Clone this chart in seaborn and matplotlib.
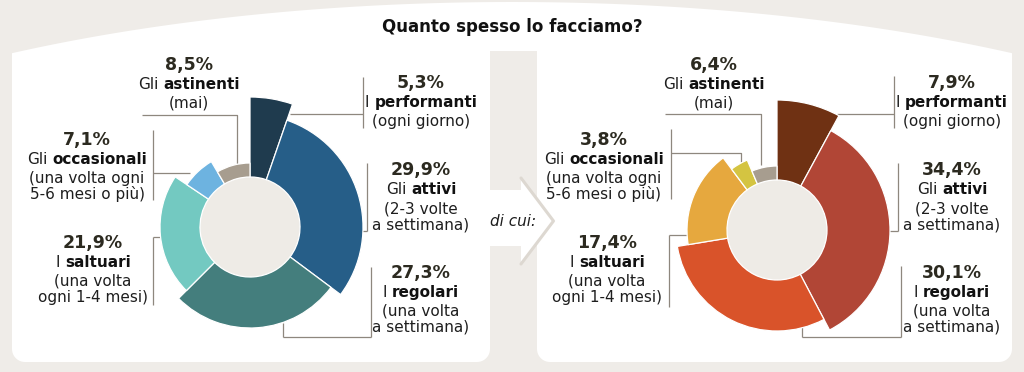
import numpy as np
import matplotlib
matplotlib.use("Agg")
import matplotlib.pyplot as plt
from matplotlib.patches import Polygon
import seaborn as sns

# ---------------- data ----------------
title = "Quanto spesso lo facciamo?"
segment_names = ["performanti", "attivi", "regolari", "saltuari", "occasionali", "astinenti"]
name_prefixes = ["I", "Gli", "I", "I", "Gli", "Gli"]
descriptions = [
    ["(ogni giorno)"],
    ["(2-3 volte", "a settimana)"],
    ["(una volta", "a settimana)"],
    ["(una volta", "ogni 1-4 mesi)"],
    ["(una volta ogni", "5-6 mesi o più)"],
    ["(mai)"],
]
share_18_60 = [5.3, 29.9, 27.3, 21.9, 7.1, 8.5]
share_18_34 = [7.9, 34.4, 30.1, 17.4, 3.8, 6.4]
center_top = ["18-60", "18-34"]
center_bottom = ["anni", "anni"]
connector_text = "di cui:"

# ---------------- style ----------------
BEIGE = "#efece8"
INNER = "#eeebe6"
LINE = "#8e877e"
PCT_COLOR = "#2c2a20"
TXT_COLOR = "#1e1e1e"
colors_18_60 = sns.color_palette(["#1f3b4e", "#265e88", "#447e7d", "#73c9c1", "#6db3e0", "#a79d8f"])
colors_18_34 = sns.color_palette(["#6f3113", "#b14636", "#d9532a", "#e6a83e", "#d4c441", "#a79d8f"])
ring_outer = [130, 113, 101, 90, 76, 64]
ring_inner = 50

sns.set_theme(style="white")
plt.rcParams["font.family"] = ["DejaVu Sans"]

W, H = 1024, 372
fig = plt.figure(figsize=(W / 100, H / 100), dpi=100)
fig.patch.set_facecolor(BEIGE)
bg = fig.add_axes([0, 0, 1, 1])
bg.set_xlim(0, W)
bg.set_ylim(H, 0)
bg.axis("off")
bg.set_zorder(0)

# ---------------- white background shape ----------------
def corner(cx, cy, r, a0, a1, n=12):
    t = np.radians(np.linspace(a0, a1, n))
    return list(zip(cx + r * np.cos(t), cy + r * np.sin(t)))

r = 13
yb = 362
xs = np.linspace(12, 1012, 200)
arch = list(zip(xs, 302 - 300 * np.sqrt(1 - ((xs - 512) / 895.0) ** 2)))
verts = [(12, yb - r)] + arch + [(1012, yb - r)]
verts += corner(1012 - r, yb - r, r, 0, 90)
verts += corner(537 + r, yb - r, r, 90, 180)
verts += [(537, 51), (490, 51)]
verts += corner(490 - r, yb - r, r, 0, 90)
verts += corner(12 + r, yb - r, r, 90, 180)
bg.add_patch(Polygon(verts, closed=True, facecolor="white", edgecolor="none"))

# arrow between panels
arrow = [(486, 190), (521, 190), (521, 179), (553, 221), (521, 263), (521, 246), (486, 246)]
bg.plot([521, 553.5, 521], [178, 221, 264], color="#ddd8d1", lw=2.2, solid_capstyle="round")
bg.add_patch(Polygon(arrow, closed=True, facecolor="white", edgecolor="none"))
bg.text(513, 221, connector_text, fontsize=11, style="italic", color=TXT_COLOR,
        ha="center", va="center")

bg.text(512, 27, title, fontsize=12, weight="bold", color="#111111", ha="center", va="center")

# ---------------- rings ----------------
def draw_ring(center, shares, colors):
    cx, cy = center
    R = 135
    ax = fig.add_axes([(cx - R) / W, (H - cy - R) / H, 2 * R / W, 2 * R / H], projection="polar")
    ax.set_zorder(1)
    ax.set_theta_zero_location("N")
    ax.set_theta_direction(-1)
    ax.set_ylim(0, R)
    ax.set_axis_off()
    s = np.asarray(shares, dtype=float)
    widths = s / s.sum() * 2 * np.pi
    starts = np.concatenate([[0], np.cumsum(widths)[:-1]])
    ax.bar(0, ring_inner, width=2 * np.pi, bottom=0, color=INNER, linewidth=0)
    ax.bar(starts, np.array(ring_outer) - ring_inner, width=widths, bottom=ring_inner,
           align="edge", color=colors, edgecolor="white", linewidth=0.9)
    return ax

draw_ring((250, 227), share_18_60, colors_18_60)
draw_ring((777, 230), share_18_34, colors_18_34)

for cx, top, bot in [(250, center_top[0], center_bottom[0]), (777, center_top[1], center_bottom[1])]:
    bg.text(cx, 217, top, fontsize=13, color="#111111", ha="center", va="center")
    bg.text(cx, 238, bot, fontsize=13, color="#111111", ha="center", va="center")

# ---------------- labels ----------------
fig.canvas.draw()
renderer = fig.canvas.get_renderer()

def text_w(s, **kw):
    t = bg.text(0, 0, s, **kw)
    w = t.get_window_extent(renderer).width
    t.remove()
    return w

LBL = 11
space_w = text_w("a a", fontsize=LBL) - text_w("aa", fontsize=LBL)

def fmt(v):
    return f"{v:.1f}".replace(".", ",") + "%"

def label_block(cx, y0, value, prefix, name, desc):
    bg.text(cx, y0, fmt(value), fontsize=12.5, weight="bold", color=PCT_COLOR,
            ha="center", va="center")
    w1 = text_w(prefix, fontsize=LBL)
    w2 = text_w(name, fontsize=LBL, weight="bold")
    x0 = cx - (w1 + space_w + w2) / 2
    yb_ = y0 + 20 + 4
    bg.text(x0, yb_, prefix, fontsize=LBL, color=TXT_COLOR, ha="left", va="baseline")
    bg.text(x0 + w1 + space_w, yb_, name, fontsize=LBL, weight="bold", color="#111111",
            ha="left", va="baseline")
    for k, line in enumerate(desc):
        bg.text(cx, y0 + 38.5 + 16 * k, line, fontsize=LBL, color=TXT_COLOR,
                ha="center", va="center")

pos_left = [(421, 83), (421, 170), (421, 273), (93, 243), (87, 140), (189, 65)]
pos_right = [(952, 83), (952, 170), (952, 273), (607, 243), (604, 140), (714, 65)]

for shares, pos in [(share_18_60, pos_left), (share_18_34, pos_right)]:
    for i in range(len(segment_names)):
        label_block(pos[i][0], pos[i][1], shares[i], name_prefixes[i], segment_names[i], descriptions[i])

# ---------------- leader lines ----------------
leaders = [
    # left chart
    [(142, 115), (237, 115), (237, 164)],
    [(153, 130), (153, 200)], [(153, 173), (190, 173)],
    [(153, 237), (153, 305)], [(153, 237), (161, 237)],
    [(363, 77), (363, 128)], [(290, 114), (363, 114)],
    [(367, 163), (367, 231)], [(362, 231), (367, 231)],
    [(371, 267), (371, 337)], [(283, 337), (371, 337)], [(283, 323), (283, 337)],
    # right chart
    [(665, 114), (761, 114), (761, 165)],
    [(671, 129), (671, 199)], [(671, 153), (741, 153), (741, 162)],
    [(669, 235), (669, 307)], [(669, 235), (688, 235)],
    [(894, 76), (894, 128)], [(837, 114), (894, 114)],
    [(898, 163), (898, 231)], [(889, 231), (898, 231)],
    [(901, 266), (901, 337)], [(802, 337), (901, 337)], [(802, 327), (802, 337)],
]
for pts in leaders:
    p = np.array(pts)
    bg.plot(p[:, 0], p[:, 1], color=LINE, lw=0.9, solid_capstyle="butt")

fig.savefig("out.png", dpi=100, facecolor=BEIGE)
